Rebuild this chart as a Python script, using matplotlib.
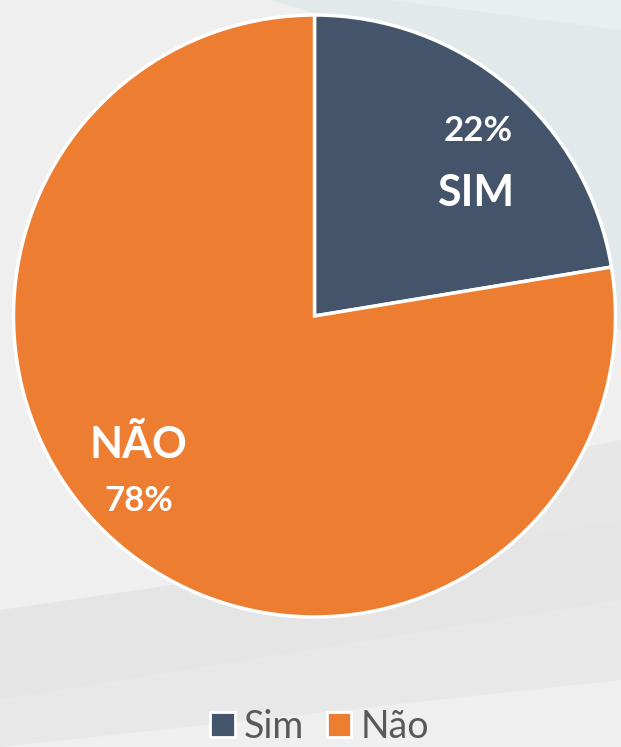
import matplotlib.pyplot as plt
from matplotlib.patches import Polygon, Patch

labels = ['Sim', 'Não']
inner_labels = ['SIM', 'NÃO']
values = [22.4, 77.6]
colors = ['#44546A', '#ED7D31']

W, H = 621, 747
fig = plt.figure(figsize=(W / 100, H / 100), dpi=100)
fig.patch.set_facecolor('#efefef')


def px(pts):
    # pixel coords (origin top-left) -> figure fraction
    return [(x / W, 1 - y / H) for x, y in pts]


# faint background shapes (behind the pie)
bg_shapes = [
    ([(270, 0), (621, 0), (621, 330), (560, 300), (470, 60)], '#e2e9ea'),
    ([(390, 0), (621, 0), (621, 30)], '#e9eeef'),
    ([(0, 610), (621, 520), (621, 600), (0, 700)], '#e5e5e5'),
    ([(0, 700), (621, 600), (621, 680), (0, 747)], '#e8e8e8'),
    ([(170, 560), (470, 470), (621, 440), (621, 520), (190, 600)], '#e7e7e7'),
]
for pts, c in bg_shapes:
    fig.patches.append(Polygon(px(pts), closed=True, transform=fig.transFigure,
                               facecolor=c, edgecolor='none', zorder=-5))

cx, cy, r = 314.5, 316, 304
ax = fig.add_axes([(cx - r) / W, 1 - (cy + r) / H, 2 * r / W, 2 * r / H])
ax.set_facecolor('none')
ax.set_zorder(2)

wedges, _ = ax.pie(values, colors=colors, startangle=90, counterclock=False,
                   radius=1, wedgeprops=dict(edgecolor='white', linewidth=2.5))
ax.set_xlim(-1.01, 1.01)
ax.set_ylim(-1.01, 1.01)
ax.axis('off')

font = ['Lato', 'DejaVu Sans']
# data labels
pcts = [f'{round(v)}%' for v in values]
ax.text(0.545, 0.615, pcts[0], color='white', fontsize=25, fontweight='bold',
        ha='center', va='center', family=font)
ax.text(0.535, 0.41, inner_labels[0], color='white', fontsize=31, fontweight='bold',
        ha='center', va='center', family=font)
ax.text(-0.585, -0.43, inner_labels[1], color='white', fontsize=31, fontweight='bold',
        ha='center', va='center', family=font)
ax.text(-0.585, -0.615, pcts[1], color='white', fontsize=25, fontweight='bold',
        ha='center', va='center', family=font)

handles = [Patch(facecolor=c, edgecolor='white', linewidth=2) for c in colors]
leg = fig.legend(handles, labels, loc='center', bbox_to_anchor=(0.515, 1 - 727 / H),
                 ncol=2, frameon=False, handlelength=0.65, handleheight=0.65,
                 handletextpad=0.25, columnspacing=0.6, prop={'family': font, 'size': 27})
for t in leg.get_texts():
    t.set_color('#595959')

fig.savefig('out.png', dpi=100, facecolor=fig.get_facecolor())
